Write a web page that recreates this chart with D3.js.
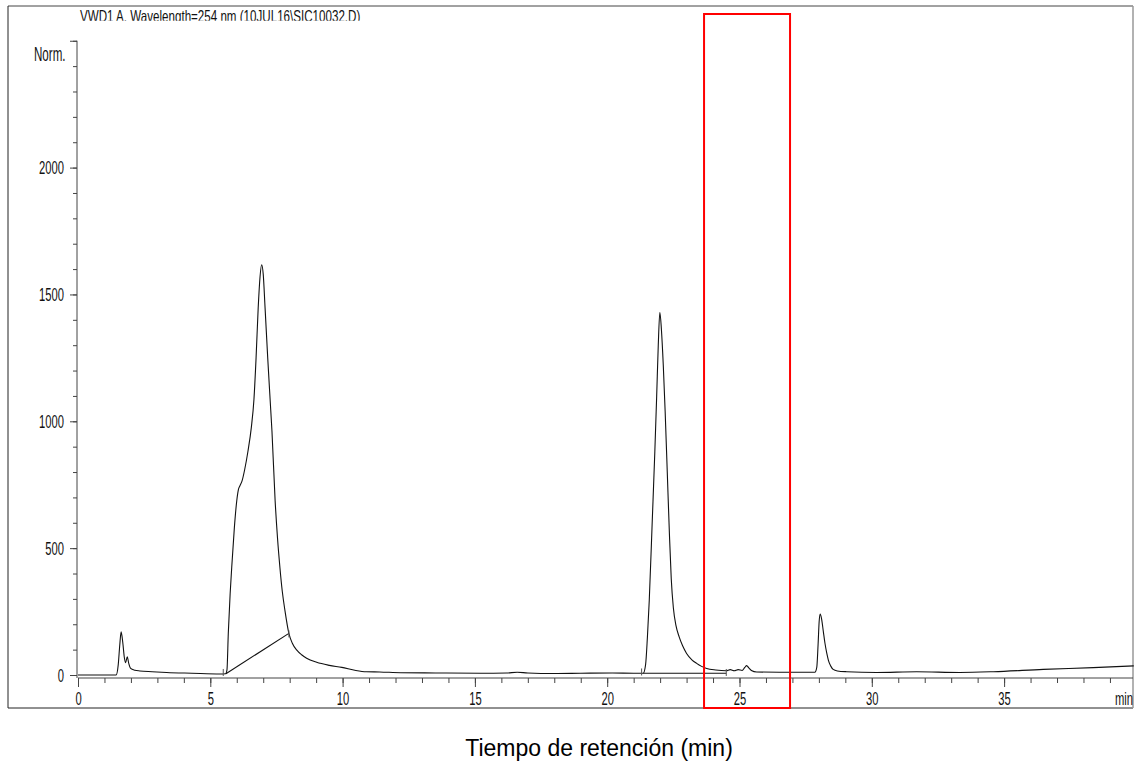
<!DOCTYPE html>
<html>
<head>
<meta charset="utf-8">
<script src="https://cdn.jsdelivr.net/npm/d3@7"></script>
<style>
body { margin: 0; background: #fff; }
.narrow { font-family: "Liberation Sans", Arial, sans-serif; font-size: 14px; fill: #111; }
.axis line { stroke: #444; }
</style>
</head>
<body>
<div id="chart"></div>
<script>
// chromatogram: retention time (min) and signal (Norm.)
const retTime = [0, 1.0, 1.44, 1.52, 1.58, 1.63, 1.69, 1.75, 1.80, 1.86, 1.92, 1.99, 2.15, 2.34, 2.8, 3.35, 4.3, 5.37,
    5.58, 5.63, 5.68, 5.75, 5.81, 5.91, 6.0, 6.06, 6.12, 6.2, 6.3, 6.42, 6.55, 6.65, 6.73, 6.81, 6.88, 6.94, 7.0,
    7.07, 7.17, 7.26, 7.33, 7.45, 7.54, 7.63, 7.72, 7.82, 7.97, 8.1, 8.27, 8.45, 8.64, 9.02, 9.5, 9.97, 10.5, 10.9,
    11.4, 12.2, 13.5, 15.2, 16.2, 16.6, 17.0, 18.0, 19.0, 20.2, 21.0, 21.36, 21.45, 21.52, 21.59, 21.7, 21.8, 21.87,
    21.93, 21.99, 22.05, 22.12, 22.19, 22.27, 22.35, 22.42, 22.5, 22.6, 22.72, 22.85, 23.0, 23.2, 23.38, 23.55, 23.76,
    24.1, 24.5, 24.65, 24.8, 24.95, 25.1, 25.2, 25.27, 25.35, 25.45, 25.65, 26.5, 27.5, 27.85, 27.92, 27.97, 28.01,
    28.05, 28.1, 28.17, 28.23, 28.3, 28.36, 28.45, 28.54, 28.7, 29.05, 30.18, 31.7, 33.33, 34.6, 36.48, 38.37, 39.9];
const signal = [0, 0, 0, 40, 120, 170, 130, 70, 48, 72, 45, 26, 19, 16, 13, 10, 7, 4,
    5, 20, 164, 320, 425, 582, 687, 730, 746, 765, 810, 880, 975, 1087, 1250, 1447, 1570, 1617, 1580,
    1447, 1250, 1087, 962, 687, 540, 425, 330, 255, 164, 125, 98, 80, 66, 50, 38, 30, 18, 13,
    12, 9, 8, 7, 8, 11, 8, 6, 7, 8, 7, 7, 40, 150, 295, 600, 880, 1100,
    1300, 1430, 1360, 1220, 1040, 800, 560, 380, 265, 195, 150, 115, 85, 60, 46, 35, 26,
    20, 17, 21, 17, 21, 18, 30, 37, 28, 18, 12, 11, 11, 11, 30, 120, 210,
    240, 222, 170, 125, 85, 58, 35, 22, 16, 13, 10, 13, 10, 13, 22, 29, 36];

// integration baselines and their end marks
const baseStartTime = [5.59, 21.36];
const baseStartSignal = [5, 7];
const baseEndTime = [7.97, 24.5];
const baseEndSignal = [164, 7];
const markTime = [5.49, 7.97, 21.3, 24.5];
const markSignal = [8, 160, 10, 8];

// highlighted window (min)
const boxTime = [23.66, 26.91];

// axis ticks
const xMinorTicks = d3.range(0, 40, 1);
const xMajorTicks = [0, 5, 10, 15, 20, 25, 30, 35];
const yMinorTicks = d3.range(0, 2501, 100);
const yMajorTicks = [0, 500, 1000, 1500, 2000, 2500];
const yLabelled = [0, 500, 1000, 1500, 2000];

const titleText = "VWD1 A, Wavelength=254 nm (10JUL16\\SIC10032.D)";
const xTitle = "Tiempo de retención (min)";

let svgWidth = 1135;
let svgHeight = 761;
let frame = { left: 8, top: 6, right: 1133, bottom: 708 };
let axisY = 678;
// condensed look of the instrument font
let squeeze = "scale(0.8,1.25)";

let svg = d3.select("#chart")
    .append("svg")
    .attr("width", svgWidth)
    .attr("height", svgHeight);

// scales
let xScale = d3.scaleLinear().domain([0, 40]).range([78, 78 + 40 * 26.46]);
let yScale = d3.scaleLinear().domain([0, 2500]).range([675, 675 - 2500 * 0.2537]);

// outer frame
svg.append("line").attr("x1", frame.left).attr("x2", frame.right).attr("y1", frame.top).attr("y2", frame.top)
    .attr("stroke", "#444");
svg.append("line").attr("x1", frame.left).attr("x2", frame.left).attr("y1", frame.top).attr("y2", frame.bottom)
    .attr("stroke", "#222");
svg.append("line").attr("x1", frame.left).attr("x2", frame.right).attr("y1", frame.bottom).attr("y2", frame.bottom)
    .attr("stroke", "#222");
svg.append("line").attr("x1", frame.right).attr("x2", frame.right).attr("y1", frame.top).attr("y2", frame.bottom)
    .attr("stroke", "#999").attr("stroke-width", 1.5);

// title, cut off just above its baseline like in the export
svg.append("clipPath").attr("id", "titleClip")
    .append("rect").attr("x", 0).attr("y", 7).attr("width", svgWidth).attr("height", 13.8);
svg.append("g")
    .attr("clip-path", "url(#titleClip)")
    .append("text")
    .attr("class", "narrow")
    .attr("transform", "translate(80,22) scale(0.8,1.15)")
    .style("font-size", "14.5px")
    .text(titleText);

// x axis
let xAxisG = svg.append("g").attr("class", "axis").attr("transform", `translate(0,${axisY})`);
xAxisG.append("g").call(d3.axisBottom(xScale).tickValues(xMinorTicks).tickSize(5).tickFormat(""));
xAxisG.append("g").call(d3.axisBottom(xScale).tickValues(xMajorTicks).tickSize(9).tickFormat(d3.format("d")));
xAxisG.selectAll(".domain").remove();
xAxisG.selectAll("text")
    .attr("class", "narrow")
    .attr("y", 0).attr("dy", 0)
    .attr("transform", `translate(0,27) ${squeeze}`);
xAxisG.append("line").attr("x1", xScale(0)).attr("x2", frame.right).attr("stroke", "#333");
svg.append("text")
    .attr("class", "narrow")
    .attr("text-anchor", "end")
    .attr("transform", `translate(${frame.right},${axisY + 27}) ${squeeze}`)
    .text("min");

// y axis
let yAxisG = svg.append("g").attr("class", "axis").attr("transform", "translate(77,0)");
yAxisG.append("g").call(d3.axisLeft(yScale).tickValues(yMinorTicks).tickSize(4).tickFormat(""));
yAxisG.append("g").call(d3.axisLeft(yScale).tickValues(yMajorTicks).tickSize(7)
    .tickFormat(d => yLabelled.includes(d) ? d : ""));
yAxisG.selectAll(".domain").remove();
yAxisG.selectAll("text")
    .attr("class", "narrow")
    .attr("x", 0).attr("y", 0).attr("dy", 0)
    .attr("transform", `translate(-13,6) ${squeeze}`);
yAxisG.append("line").attr("y1", yScale(2500)).attr("y2", axisY).attr("stroke", "#333");
svg.append("text")
    .attr("class", "narrow")
    .attr("transform", "translate(34,61) scale(0.8,1.35)")
    .style("font-size", "14.5px")
    .text("Norm.");

// signal trace
let points = retTime.map((t, i) => [t, signal[i]]);
let line = d3.line()
    .x(d => xScale(d[0]))
    .y(d => yScale(d[1]))
    .curve(d3.curveMonotoneX);
svg.append("path")
    .datum(points)
    .attr("d", line)
    .attr("fill", "none")
    .attr("stroke", "#111")
    .attr("stroke-width", 1.1);

// integration baselines
svg.selectAll(".base")
    .data(baseStartTime)
    .enter()
    .append("line")
    .attr("class", "base")
    .attr("x1", (d, i) => xScale(d))
    .attr("y1", (d, i) => yScale(baseStartSignal[i]))
    .attr("x2", (d, i) => xScale(baseEndTime[i]))
    .attr("y2", (d, i) => yScale(baseEndSignal[i]))
    .attr("stroke", "#111")
    .attr("stroke-width", 1.1);
svg.selectAll(".mark")
    .data(markTime)
    .enter()
    .append("line")
    .attr("class", "mark")
    .attr("x1", d => xScale(d))
    .attr("x2", d => xScale(d))
    .attr("y1", (d, i) => yScale(markSignal[i]) - 4)
    .attr("y2", (d, i) => yScale(markSignal[i]) + 3)
    .attr("stroke", "#555");

// red highlight box
svg.append("rect")
    .attr("x", xScale(boxTime[0]))
    .attr("y", 14)
    .attr("width", xScale(boxTime[1]) - xScale(boxTime[0]))
    .attr("height", frame.bottom - 14)
    .attr("fill", "none")
    .attr("stroke", "#ff0000")
    .attr("stroke-width", 2);

// x axis title
svg.append("text")
    .attr("x", 599)
    .attr("y", 756)
    .attr("text-anchor", "middle")
    .style("font-family", "'Liberation Sans', Arial, sans-serif")
    .style("font-size", "23px")
    .attr("fill", "#000")
    .text(xTitle);
</script>
</body>
</html>
